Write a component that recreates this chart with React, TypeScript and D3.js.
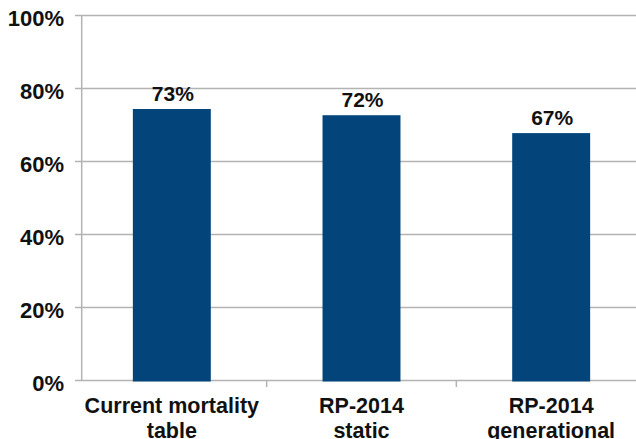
import React from "react";
import * as d3 from "d3";

const categories: string[][] = [
  ["Current mortality", "table"],
  ["RP-2014", "static"],
  ["RP-2014", "generational"],
];
const values: number[] = [0.744, 0.727, 0.678];
const valueLabels: string[] = ["73%", "72%", "67%"];
const yTicks: number[] = [0, 0.2, 0.4, 0.6, 0.8, 1.0];

const W = 636;
const H = 439;
const FONT = "'Liberation Sans', Arial, sans-serif";
const BAR = "#03457b";
const GRID = "#b3b3b3";

export default function App() {
  const keys = categories.map((c) => c.join(" "));
  const x = d3.scaleBand<string>().domain(keys).range([77, 646]).paddingInner(0.589).paddingOuter(0.2945);
  const xb = d3.scaleBand<string>().domain(keys).range([77, 646]);
  const y = d3.scaleLinear().domain([0, 1]).range([380.5, 15.6]);
  const axisX = 81.7;
  const fmt = d3.format(".0%");

  return (
    <svg
      width={W}
      height={H}
      style={{ position: "absolute", left: 0, top: 0, background: "#fff", overflow: "hidden" }}
    >
      {yTicks.map((t) => (
        <g key={t}>
          <line x1={75} x2={W + 10} y1={y(t)} y2={y(t)} stroke={GRID} strokeWidth={1.5} />
          <text
            x={64}
            y={y(t) + 10.3}
            textAnchor="end"
            fontFamily={FONT}
            fontWeight="bold"
            fontSize={22}
            fill="#111"
          >
            {fmt(t)}
          </text>
        </g>
      ))}
      <line x1={axisX} x2={axisX} y1={y(1)} y2={y(0)} stroke={GRID} strokeWidth={1.5} />
      {keys.slice(1).map((k) => (
        <line
          key={k}
          x1={xb(k)!}
          x2={xb(k)!}
          y1={y(0)}
          y2={y(0) + 6.5}
          stroke={GRID}
          strokeWidth={1.5}
        />
      ))}
      {keys.map((k, i) => (
        <g key={k}>
          <rect
            x={x(k)!}
            y={y(values[i])}
            width={x.bandwidth()}
            height={y(0) - y(values[i]) + 1}
            fill={BAR}
          />
          <text
            x={x(k)! + x.bandwidth() / 2 + 1}
            y={y(values[i]) - 8}
            textAnchor="middle"
            fontFamily={FONT}
            fontWeight="bold"
            fontSize={21}
            fill="#111"
          >
            {valueLabels[i]}
          </text>
          {categories[i].map((line, j) => (
            <text
              key={j}
              x={x(k)! + x.bandwidth() / 2}
              y={413 + j * 25}
              textAnchor="middle"
              fontFamily={FONT}
              fontWeight="bold"
              fontSize={21.5}
              fill="#111"
            >
              {line}
            </text>
          ))}
        </g>
      ))}
    </svg>
  );
}
